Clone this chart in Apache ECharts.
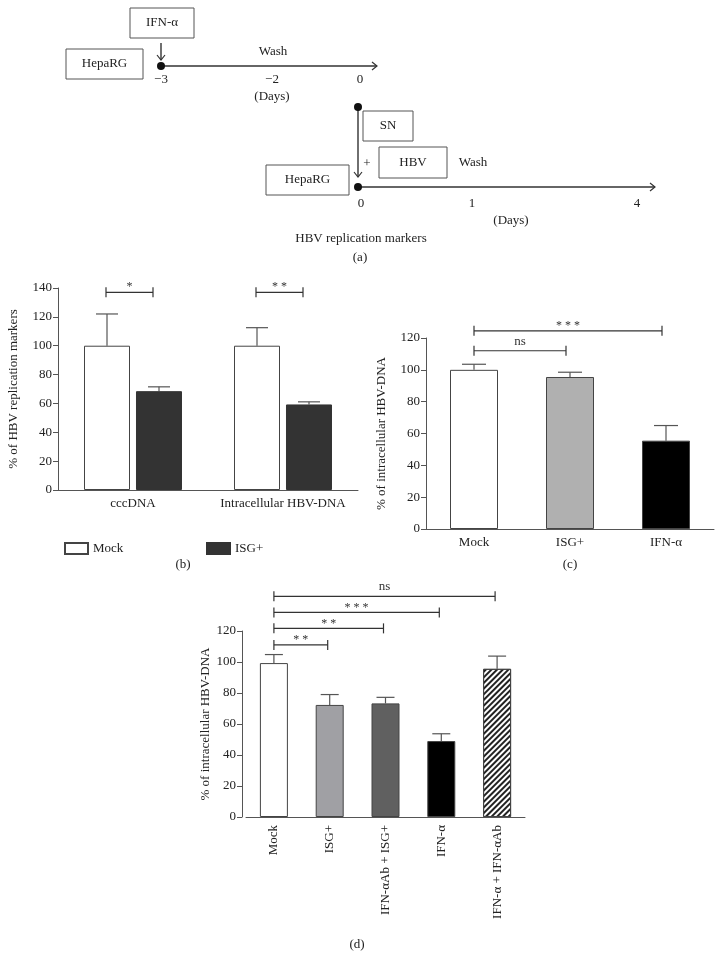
<!DOCTYPE html>
<html>
<head>
<meta charset="utf-8">
<script src="https://cdn.jsdelivr.net/npm/echarts@6/dist/echarts.min.js"></script>
<style>html,body{margin:0;padding:0;background:#fff}#c{width:720px;height:971px}</style>
</head>
<body>
<div id="c"></div>
<script>
// ---------- DATA ----------
const bCategories = ['cccDNA', 'Intracellular HBV-DNA'];
const bMock = [100, 100];
const bMockErr = [22, 12.5];
const bISG = [68.5, 59.3];
const bISGErr = [3, 1.8];
const bSigLabels = ['*', '**'];
const bSigY = [137, 137];
const bYTicks = [0, 140, 20]; // min, max, interval

const cCategories = ['Mock', 'ISG+', 'IFN-α'];
const cValues = [100, 95.5, 55.5];
const cErr = [3.5, 3, 9.5];
const cSigFrom = [0, 0];
const cSigTo = [1, 2];
const cSigY = [112, 124.5];
const cSigLabels = ['ns', '***'];
const cYTicks = [0, 120, 20];

const dCategories = ['Mock', 'ISG+', 'IFN-αAb + ISG+', 'IFN-α', 'IFN-α + IFN-αAb'];
const dValues = [99.3, 72.3, 73.3, 49, 95.6];
const dErr = [5.5, 6.7, 3.9, 4.7, 8.2];
const dSigFrom = [0, 0, 0, 0];
const dSigTo = [1, 2, 3, 4];
const dSigY = [111, 121.7, 132, 142.4];
const dSigLabels = ['**', '**', '***', 'ns'];
const dYTicks = [0, 120, 20];

// ---------- STYLE ----------
const FONT = '"Liberation Serif", "DejaVu Serif", serif';
const AX = '#555';
const TXT = '#222';
const cColors = ['#ffffff', '#b0b0b0', '#000000'];
const dColors = ['#ffffff', '#a0a0a4', '#606060', '#000000', '#ffffff'];
const hatch = {symbol: 'rect', symbolSize: 1, dashArrayX: [1, 0], dashArrayY: [1.1, 1.1], rotation: -Math.PI / 4, color: '#222'};

function axisCommonX(gi, cats, extra) {
  return Object.assign({
    type: 'category', gridIndex: gi, data: cats,
    axisLine: {lineStyle: {color: AX, width: 1}},
    axisTick: {alignWithLabel: true, length: 5, lineStyle: {color: AX}},
    axisLabel: {color: TXT, fontFamily: FONT, fontSize: 13, margin: 7, interval: 0}
  }, extra || {});
}
function axisCommonY(gi, t, name, gap, extra) {
  return Object.assign({
    type: 'value', gridIndex: gi, min: t[0], max: t[1], interval: t[2],
    name: name, nameLocation: 'middle', nameGap: gap,
    nameTextStyle: {color: TXT, fontFamily: FONT, fontSize: 13},
    splitLine: {show: false},
    axisLine: {show: true, lineStyle: {color: AX, width: 1}},
    axisTick: {show: true, length: 5, lineStyle: {color: AX}},
    axisLabel: {color: TXT, fontFamily: FONT, fontSize: 13, margin: 6}
  }, extra || {});
}

function errSeries(xi, yi, vals, errs, offset, cap) {
  return {
    type: 'custom', xAxisIndex: xi, yAxisIndex: yi, z: 1,
    data: vals.map((v, i) => [i, v, errs[i]]),
    renderItem: function (params, api) {
      const p0 = api.coord([api.value(0), api.value(1)]);
      const p1 = api.coord([api.value(0), api.value(1) + api.value(2)]);
      const x = p0[0] + offset;
      const st = {stroke: AX, lineWidth: 1.2};
      return {type: 'group', children: [
        {type: 'line', shape: {x1: x, y1: p0[1], x2: x, y2: p1[1]}, style: st},
        {type: 'line', shape: {x1: x - cap, y1: p1[1], x2: x + cap, y2: p1[1]}, style: st}
      ]};
    }
  };
}

function sigSeries(xi, yi, from, to, ys, labels, offFrom, offTo) {
  return {
    type: 'custom', xAxisIndex: xi, yAxisIndex: yi, clip: false, z: 5,
    data: ys.map((y, i) => [from[i], to[i], y]),
    renderItem: function (params, api) {
      const a = api.coord([api.value(0), api.value(2)]);
      const b = api.coord([api.value(1), api.value(2)]);
      const x1 = a[0] + offFrom, x2 = b[0] + offTo, y = a[1];
      const st = {stroke: '#333', lineWidth: 1.2};
      const lab = labels[params.dataIndex];
      const isStar = lab.indexOf('*') >= 0;
      const shown = isStar ? lab.split('').join(' ') : lab;
      return {type: 'group', children: [
        {type: 'line', shape: {x1: x1, y1: y, x2: x2, y2: y}, style: st},
        {type: 'line', shape: {x1: x1, y1: y - 5, x2: x1, y2: y + 5}, style: st},
        {type: 'line', shape: {x1: x2, y1: y - 5, x2: x2, y2: y + 5}, style: st},
        {type: 'text', x: (x1 + x2) / 2, y: isStar ? y + 1 : y - 3,
         style: {text: shown, font: (isStar ? 12 : 13) + 'px ' + FONT, fill: '#333', align: 'center', verticalAlign: 'bottom'}}
      ]};
    }
  };
}

// ---------- PANEL (a) schematic ----------
function txt(x, y, s, size) {
  return {type: 'text', x: x, y: y, style: {text: s, font: (size || 13) + 'px ' + FONT, fill: TXT, align: 'center', verticalAlign: 'middle'}};
}
function box(x, y, w, h) {
  return {type: 'rect', shape: {x: x, y: y, width: w, height: h}, style: {fill: '#fff', stroke: '#555', lineWidth: 1}};
}
function ln(x1, y1, x2, y2) {
  return {type: 'line', shape: {x1: x1, y1: y1, x2: x2, y2: y2}, style: {stroke: '#333', lineWidth: 1.4}};
}
function chevR(x, y) { return {type: 'polyline', shape: {points: [[x - 5, y - 4], [x, y], [x - 5, y + 4]]}, style: {stroke: '#333', lineWidth: 1.2, fill: null}}; }
function chevD(x, y) { return {type: 'polyline', shape: {points: [[x - 4, y - 5], [x, y], [x + 4, y - 5]]}, style: {stroke: '#333', lineWidth: 1.2, fill: null}}; }
function dot(x, y) { return {type: 'circle', shape: {cx: x, cy: y, r: 4}, style: {fill: '#111'}}; }

const graphicA = [
  box(130, 8, 64, 30), txt(162, 23, 'IFN-α'),
  box(66, 49, 77, 30), txt(104.5, 64, 'HepaRG'),
  ln(161, 43, 161, 60), chevD(161, 60),
  ln(161, 66, 377, 66), chevR(377, 66), dot(161, 66),
  txt(273, 52, 'Wash'),
  txt(161, 80, '−3'), txt(272, 80, '−2'), txt(360, 80, '0'), txt(272, 97, '(Days)'),
  ln(358, 107, 358, 177), chevD(358, 177), dot(358, 107),
  box(363, 111, 50, 30), txt(388, 126, 'SN'),
  txt(367, 164, '+'),
  box(379, 147, 68, 31), txt(413, 162.5, 'HBV'),
  txt(473, 163, 'Wash'),
  box(266, 165, 83, 30), txt(307.5, 180, 'HepaRG'),
  ln(358, 187, 655, 187), chevR(655, 187), dot(358, 187),
  txt(361, 204, '0'), txt(472, 204, '1'), txt(637, 204, '4'), txt(511, 221, '(Days)'),
  txt(361, 239, 'HBV replication markers'),
  txt(360, 258, '(a)'),
  txt(183, 565, '(b)'), txt(570, 565, '(c)'), txt(357, 945, '(d)')
];

// ---------- OPTION ----------
const legendText = {color: TXT, fontFamily: FONT, fontSize: 13};
const option = {
  backgroundColor: '#fff',
  animation: false,
  textStyle: {fontFamily: FONT},
  graphic: graphicA,
  legend: [
    {left: 59, top: 537, itemWidth: 23, itemHeight: 11, icon: 'rect', data: ['Mock'], textStyle: legendText, itemGap: 0},
    {left: 201, top: 537, itemWidth: 23, itemHeight: 11, icon: 'rect', data: ['ISG+'], textStyle: legendText, itemGap: 0}
  ],
  grid: [
    {left: 58, top: 288, width: 300, height: 202},
    {left: 426, top: 338, width: 288, height: 191},
    {left: 246, top: 631, width: 279, height: 186}
  ],
  xAxis: [
    axisCommonX(0, bCategories),
    axisCommonX(1, cCategories),
    axisCommonX(2, dCategories, {axisLabel: {color: TXT, fontFamily: FONT, fontSize: 13, margin: 8, rotate: 90, interval: 0}})
  ],
  yAxis: [
    axisCommonY(0, bYTicks, '% of HBV replication markers', 38),
    axisCommonY(1, cYTicks, '% of intracellular HBV-DNA', 38),
    axisCommonY(2, dYTicks, '% of intracellular HBV-DNA', 30, {offset: 4})
  ],
  series: [
    {name: 'Mock', type: 'bar', xAxisIndex: 0, yAxisIndex: 0, data: bMock, barWidth: 46, barGap: '13%',
     itemStyle: {color: '#fff', borderColor: '#444', borderWidth: 1}},
    {name: 'ISG+', type: 'bar', xAxisIndex: 0, yAxisIndex: 0, data: bISG, barWidth: 46, barGap: '13%',
     itemStyle: {color: '#333', borderColor: '#333', borderWidth: 1}},
    errSeries(0, 0, bMock, bMockErr, -26, 11),
    errSeries(0, 0, bISG, bISGErr, 26, 11),
    sigSeries(0, 0, [0, 1], [0, 1], bSigY, bSigLabels, -27, 20),

    {type: 'bar', xAxisIndex: 1, yAxisIndex: 1, barWidth: 48,
     data: cValues.map((v, i) => ({value: v, itemStyle: {color: cColors[i], borderColor: '#444', borderWidth: 1}}))},
    errSeries(1, 1, cValues, cErr, 0, 12),
    sigSeries(1, 1, cSigFrom, cSigTo, cSigY, cSigLabels, 0, -4),

    {type: 'bar', xAxisIndex: 2, yAxisIndex: 2, barWidth: 28,
     data: dValues.map((v, i) => ({value: v, itemStyle: {color: dColors[i], borderColor: '#444', borderWidth: 1, decal: i === 4 ? hatch : null}}))},
    errSeries(2, 2, dValues, dErr, 0, 9),
    sigSeries(2, 2, dSigFrom, dSigTo, dSigY, dSigLabels, 0, -2)
  ]
};

const chart = echarts.init(document.getElementById('c'), null, {renderer: 'canvas'});
chart.setOption(option);
</script>
</body>
</html>
